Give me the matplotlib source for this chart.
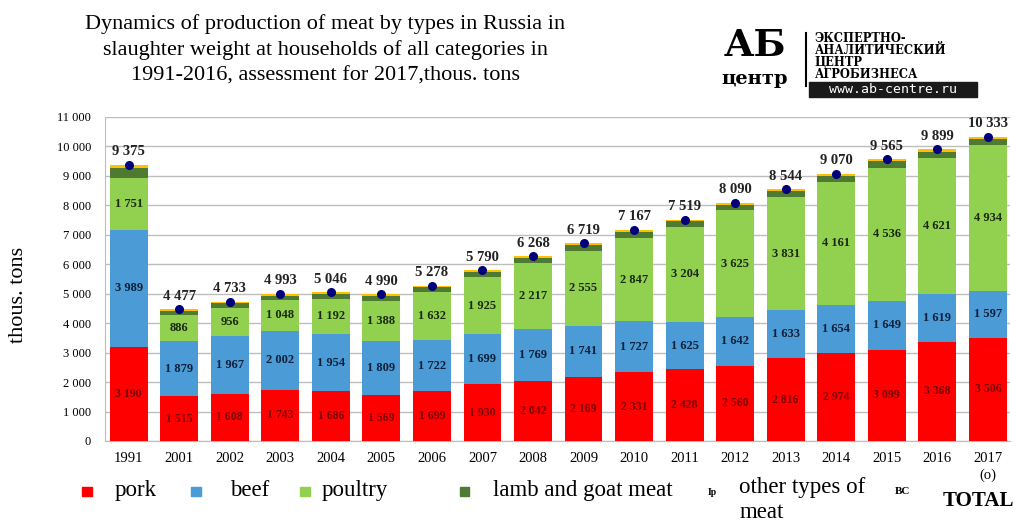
import matplotlib.pyplot as plt
import numpy as np
from matplotlib.patches import Rectangle

years = ['1991', '2001', '2002', '2003', '2004', '2005', '2006', '2007', '2008',
         '2009', '2010', '2011', '2012', '2013', '2014', '2015', '2016', '2017\n(o)']
pork = [3190, 1515, 1608, 1743, 1686, 1569, 1699, 1930, 2042,
        2169, 2331, 2428, 2560, 2816, 2974, 3099, 3368, 3506]
beef = [3989, 1879, 1967, 2002, 1954, 1809, 1722, 1699, 1769,
        1741, 1727, 1625, 1642, 1633, 1654, 1649, 1619, 1597]
poultry = [1751, 886, 956, 1048, 1192, 1388, 1632, 1925, 2217,
           2555, 2847, 3204, 3625, 3831, 4161, 4536, 4621, 4934]
# lamb and other are not labelled on the chart
lamb = [340, 140, 145, 145, 155, 165, 170, 180, 185,
        195, 200, 200, 200, 200, 210, 210, 215, 220]
total = [9375, 4477, 4733, 4993, 5046, 4990, 5278, 5790, 6268,
         6719, 7167, 7519, 8090, 8544, 9070, 9565, 9899, 10333]
other = [t - p - b - q - l for t, p, b, q, l in zip(total, pork, beef, poultry, lamb)]

c_pork = '#FF0000'
c_beef = '#4A9BD6'
c_poultry = '#92D050'
c_lamb = '#4F7A32'
c_other = '#FFC000'
c_total = '#00007A'

plt.rcParams['font.family'] = ['Liberation Serif', 'DejaVu Serif']

fig = plt.figure(figsize=(10.17, 5.22), dpi=100)
ax = fig.add_axes([0.1032, 0.1552, 0.890, 0.6207])

x = np.arange(len(years))
w = 0.75
b1 = np.array(pork)
b2 = b1 + np.array(beef)
b3 = b2 + np.array(poultry)
b4 = b3 + np.array(lamb)

ax.bar(x, pork, w, color=c_pork, zorder=3)
ax.bar(x, beef, w, bottom=b1, color=c_beef, zorder=3)
ax.bar(x, poultry, w, bottom=b2, color=c_poultry, zorder=3)
ax.bar(x, lamb, w, bottom=b3, color=c_lamb, zorder=3)
ax.bar(x, other, w, bottom=b4, color=c_other, zorder=3)
ax.plot(x, total, 'o', color=c_total, markersize=5.5, zorder=4)


def fmt(v):
    return '{:,}'.format(v).replace(',', ' ')


for i in range(len(x)):
    ax.text(x[i], pork[i] / 2, fmt(pork[i]), ha='center', va='center',
            fontsize=8.5, fontweight='bold', color='#7A0000', zorder=5)
    ax.text(x[i], b1[i] + beef[i] / 2, fmt(beef[i]), ha='center', va='center',
            fontsize=9, fontweight='bold', color='#10203A', zorder=5)
    ax.text(x[i], b2[i] + poultry[i] / 2, fmt(poultry[i]), ha='center', va='center',
            fontsize=9, fontweight='bold', color='#1A2A10', zorder=5)
    ax.text(x[i], total[i] + 220, fmt(total[i]), ha='center', va='bottom',
            fontsize=10.5, fontweight='bold', color='#222222', zorder=5)

ax.set_xlim(-0.47, 17.44)
ax.set_ylim(0, 11000)
ax.set_yticks(range(0, 11001, 1000))
ax.set_yticklabels([fmt(v) for v in range(0, 11001, 1000)], fontsize=9)
ax.set_xticks(x)
ax.set_xticklabels(years, fontsize=10.5, va='top', linespacing=1.3)
ax.tick_params(axis='both', length=0, pad=8)
ax.tick_params(axis='y', pad=10)
ax.grid(axis='y', color='#BDBDBD', linewidth=1, zorder=0)
for s in ['top', 'right']:
    ax.spines[s].set_visible(False)
ax.spines['left'].set_color('#BDBDBD')
ax.spines['bottom'].set_color('#BDBDBD')

fig.text(0.018, 0.435, 'thous. tons', rotation=90, ha='center', va='center', fontsize=16)

fig.text(0.32, 0.905, 'Dynamics of production of meat by types in Russia in\n'
         'slaughter weight at households of all categories in\n'
         '1991-2016, assessment for 2017,thous. tons',
         ha='center', va='center', fontsize=16, linespacing=1.42)

# legend row
leg = [(c_pork, 'pork', 0.081, 0.113),
       (c_beef, 'beef', 0.188, 0.226),
       (c_poultry, 'poultry', 0.295, 0.316),
       (c_lamb, 'lamb and goat meat', 0.452, 0.485)]
for col, lab, xs, xt in leg:
    fig.patches.append(Rectangle((xs, 0.050), 0.0095, 0.018, transform=fig.transFigure,
                                 color=col, figure=fig))
    fig.text(xt, 0.061, lab, ha='left', va='center', fontsize=16.5)
fig.text(0.696, 0.056, 'Ip', fontsize=7, fontweight='bold', ha='left', va='center')
fig.text(0.727, 0.042, 'other types of\nmeat', ha='left', va='center', fontsize=16.5,
         linespacing=1.3)
fig.text(0.880, 0.058, 'BC', fontsize=8, fontweight='bold', ha='left', va='center')
fig.text(0.927, 0.040, 'TOTAL', fontsize=15, fontweight='bold', ha='left', va='center')

# logo
fig.text(0.742, 0.912, 'АБ', fontsize=27, fontweight='bold', ha='center', va='center',
         family='DejaVu Serif')
fig.text(0.742, 0.848, 'центр', fontsize=14, fontweight='bold', ha='center', va='center',
         family='DejaVu Serif')
fig.add_artist(plt.Line2D([0.7925, 0.7925], [0.835, 0.937], color='black', lw=1.5))
logo_lines = ['ЭКСПЕРТНО-', 'АНАЛИТИЧЕСКИЙ', 'ЦЕНТР', 'АГРОБИЗНЕСА']
for k, t in enumerate(logo_lines):
    fig.text(0.801, 0.927 - k * 0.0232, t, fontsize=8.3, fontweight='bold',
             ha='left', va='center', family='DejaVu Serif')
fig.patches.append(Rectangle((0.795, 0.814), 0.166, 0.028, transform=fig.transFigure,
                             color='#1A1A1A', figure=fig))
fig.text(0.878, 0.828, 'www.ab-centre.ru', fontsize=9.5, color='white', ha='center',
         va='center', family='DejaVu Sans Mono')

fig.savefig('out.png', dpi=100)
